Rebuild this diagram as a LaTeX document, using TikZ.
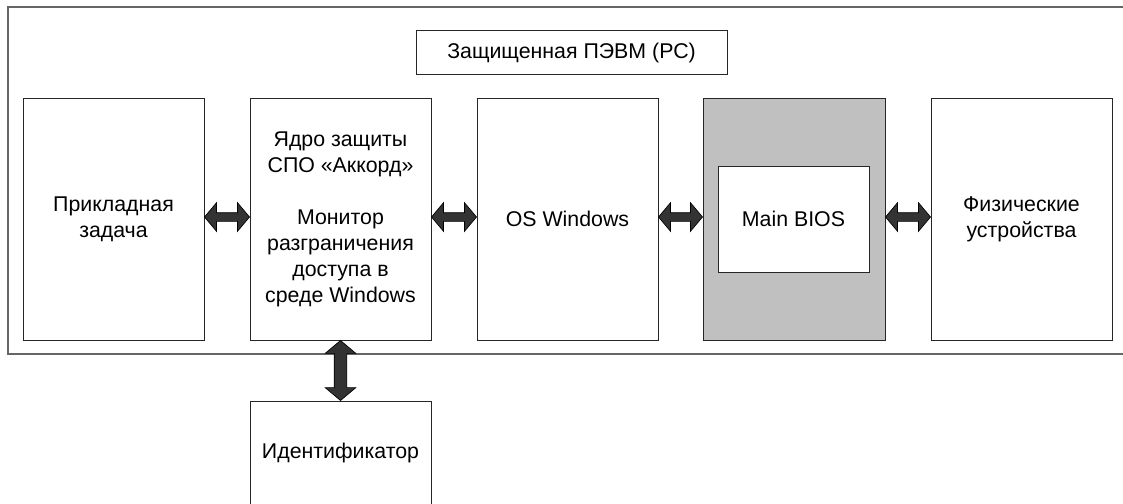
\documentclass[tikz,border=0pt]{standalone}
\usepackage{fontspec}
\setmainfont{Liberation Sans}
\usepackage{tikz}
\usetikzlibrary{calc,shapes.arrows}
\definecolor{biosgray}{RGB}{192,192,192}
\definecolor{arrowgray}{RGB}{51,51,51}

\begin{document}
\begin{tikzpicture}[x=0.75pt,y=-0.75pt,
		blk/.style={draw=black!85,line width=0.75pt,fill=white,align=center,
			font=\fontsize{16}{19.5}\selectfont,minimum width=135.75pt,minimum height=181.5pt},
		dbl/.style={double arrow,draw=black,fill=arrowgray,line width=0.5pt,
			inner xsep=0pt,double arrow tip angle=100}]
		    \useasboundingbox (0,0) rectangle (1123,503);
		    \clip (0,0) rectangle (1123,503);
		    \draw[black!60,line width=1.2pt] (8,7) rectangle (1140,354); % PC frame
		    \node[blk,minimum width=233.25pt,minimum height=33pt] (pc) at (571.5,53) {Защищенная ПЭВМ (РС)};
		    \node[blk] (app) at (113.5,219) {Прикладная\\задача}; % application
		    \node[blk] (core) at (340.5,219) {Ядро защиты\\СПО «Аккорд»\\[19.5pt]Монитор\\разграничения\\доступа в\\среде Windows};
		    \node[blk] (os) at (567.5,219) {OS Windows};
		    \node[blk,fill=biosgray,minimum width=136.5pt] (bios) at (794,219) {};
		    \node[blk,minimum width=113.25pt,minimum height=79.5pt] (main) at (793.5,219) {Main BIOS};
		    \node[blk] (dev) at (1021.5,219) {Физические\\устройства}; % devices
		    \node[blk,minimum height=78pt] (id) at (340.5,453) {Идентификатор};
		    % horizontal double arrows
		    \foreach \a/\b in {app/core,core/os,os/bios,bios/dev}
		        \path let \p1 = ($(\b.west)-(\a.east)$) in
		            node[dbl,inner ysep=3pt,double arrow head extend=7.5pt,minimum height=\x1]
		            at ($(\a.east)!0.5!(\b.west)+(0,-2)$) {};
		    % vertical double arrow
		    \path let \p1 = ($(core.south)-(id.north)$) in
		        node[dbl,rotate=90,inner ysep=4.5pt,double arrow head extend=6.75pt,minimum height=\y1]
		        at ($(core.south)!0.5!(id.north)$) {};
	    \end{tikzpicture}
\end{document}
